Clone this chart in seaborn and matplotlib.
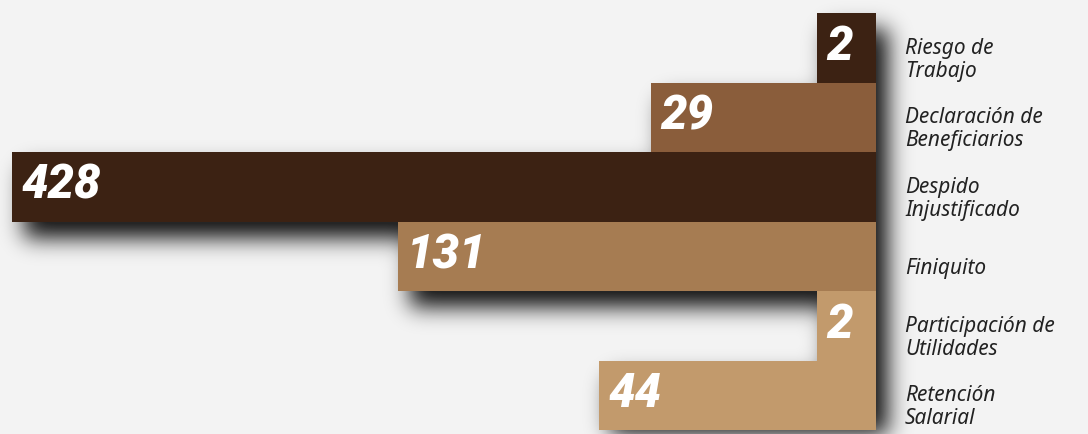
import numpy as np
import matplotlib
matplotlib.use("Agg")
import matplotlib.pyplot as plt
import seaborn as sns

# Data
categories = ["Riesgo de\nTrabajo", "Declaración de\nBeneficiarios", "Despido\nInjustificado",
              "Finiquito", "Participación de\nUtilidades", "Retención\nSalarial"]
values = [2, 29, 428, 131, 2, 44]
bar_colors = ["#3c2213", "#8a5d3b", "#3c2213", "#a67c52", "#c29a6c", "#c29a6c"]

W, H, DPI = 1088, 434, 100
BG = "#f3f3f3"

sns.set_theme(style="white")
fig = plt.figure(figsize=(W / DPI, H / DPI), dpi=DPI, facecolor=BG)
ax = fig.add_axes([0, 4 / H, 876 / W, 417 / H])
ax.patch.set_alpha(0)

sns.barplot(x=values, y=categories, hue=categories, palette=bar_colors,
            width=1.0, orient="h", legend=False, ax=ax, saturation=1)

# sqrt scale, bars grow to the left from the right edge
ax.set_xscale("function", functions=(lambda x: np.sqrt(np.clip(x, 0, None)), lambda x: x ** 2))
ax.set_xlim(440, 0)
ax.set_ylim(len(values) - 0.5, -0.5)
ax.axis("off")
for p in ax.patches:
    p.set_linewidth(0)
    p.set_zorder(3)

# value labels
for i, v in enumerate(values):
    ax.annotate(str(v), xy=(v, i), xytext=(9, 1), textcoords="offset pixels",
                ha="left", va="center", color="white", fontsize=34,
                family="Roboto", weight=900, style="italic", zorder=5)

# category labels on the right
for i, c in enumerate(categories):
    ax.annotate(c, xy=(1, i), xycoords=ax.get_yaxis_transform(), xytext=(29, -12),
                textcoords="offset pixels", ha="left", va="center", color="#222222",
                fontsize=15, family="Noto Sans", style="italic", linespacing=1.15,
                annotation_clip=False)

# soft drop shadow behind the bars
fig.canvas.draw()
mask = np.zeros((H, W))
dx, dy = 12, 16
for p in ax.patches:
    bb = p.get_window_extent()
    x0, x1 = int(bb.x0) + dx, int(bb.x1) + dx
    y0, y1 = int(bb.y0) - dy, int(bb.y1) - dy
    mask[max(y0, 0):max(y1, 0), max(x0, 0):min(x1, W)] = 1.0
sigma = 11
k = np.arange(-3 * sigma, 3 * sigma + 1)
kern = np.exp(-k ** 2 / (2 * sigma ** 2))
kern /= kern.sum()
mask = np.apply_along_axis(lambda r: np.convolve(r, kern, mode="same"), 1, mask)
mask = np.apply_along_axis(lambda c: np.convolve(c, kern, mode="same"), 0, mask)
shadow = np.zeros((H, W, 4))
shadow[..., 3] = np.clip(mask * 1.1, 0, 1) * 0.85
fig.figimage(shadow, 0, 0, origin="lower", zorder=-1)

fig.savefig("out.png", dpi=DPI, facecolor=BG)
